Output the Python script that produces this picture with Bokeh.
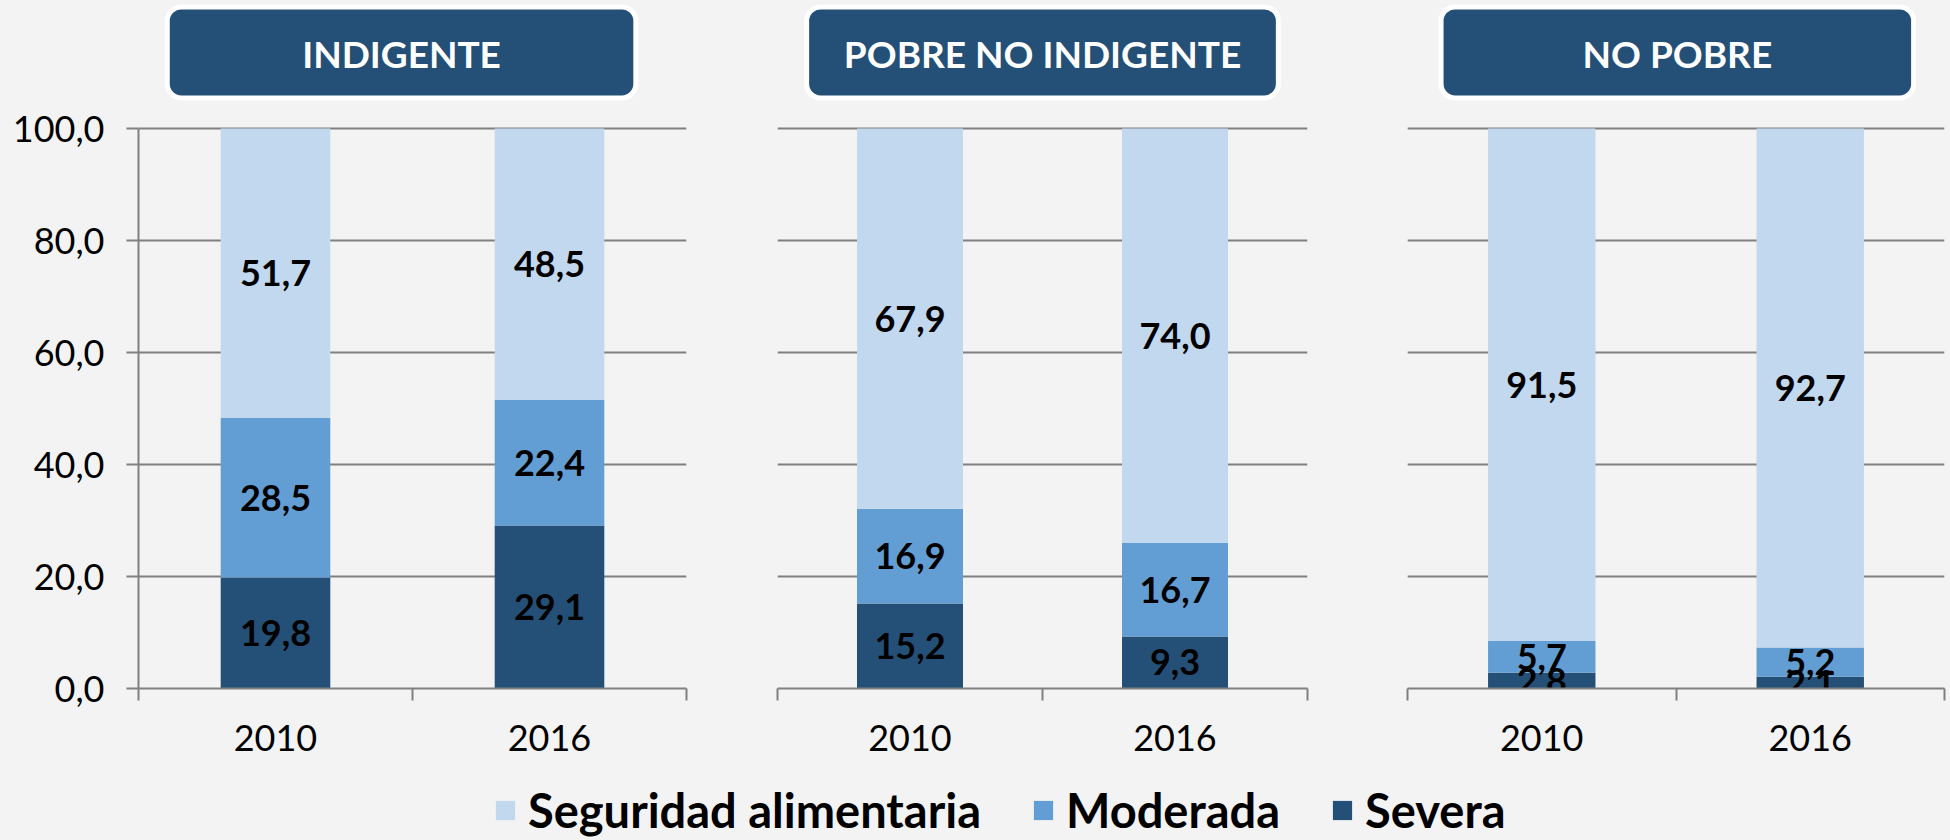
from bokeh.plotting import figure
from bokeh.models import (Range1d, FixedTicker, ColumnDataSource, BoxAnnotation, Label,
                          Legend, LegendItem, GlobalInlineStyleSheet)
from bokeh.layouts import row, column
from bokeh.core.properties import value
from bokeh.embed import file_html
from bokeh.resources import INLINE

# ---------------- data ----------------
YEARS = ["2010", "2016"]
GROUPS = ["INDIGENTE", "POBRE NO INDIGENTE", "NO POBRE"]
SERIES = ["Seguridad alimentaria", "Moderada", "Severa"]
SEVERA = [[19.8, 29.1], [15.2, 9.3], [2.8, 2.1]]
MODERADA = [[28.5, 22.4], [16.9, 16.7], [5.7, 5.2]]
SEGURIDAD = [[51.7, 48.5], [67.9, 74.0], [91.5, 92.7]]
Y_TICKS = [0, 20, 40, 60, 80, 100]

# ---------------- style ----------------
BG = "#F3F3F3"
C_LIGHT = "#C2D8EE"
C_MED = "#629ED3"
C_DARK = "#245077"
GRID = "#808080"
FONT = "Lato"

PAGE_W, PAGE_H = 1950, 840
PX_PER_UNIT = 5.6
FRAME_H = 688
Y_END = FRAME_H / PX_PER_UNIT
FIG_H = 760
BORDER_BOTTOM = FIG_H - FRAME_H

# fig width, border left, border right, show y axis, title centre (x units), title half width
PANELS = [(731, 138, 45, True, 0.96, 0.855),
          (626, 46, 50, False, 1.0, 0.89),
          (593, 50, 6, False, 1.005, 0.88)]


def fmt(v):
    return f"{v:.1f}".replace(".", ",")


figs = []
for gi, group in enumerate(GROUPS):
    w, bl, br, show_y, tc, half = PANELS[gi]
    n = len(YEARS)
    p = figure(width=w, height=FIG_H, x_range=Range1d(0, n), y_range=Range1d(0, Y_END),
               output_backend="svg", toolbar_location=None,
               min_border_left=bl, min_border_right=br, min_border_top=0,
               min_border_bottom=BORDER_BOTTOM,
               y_axis_location="left" if show_y else None,
               background_fill_color=BG, border_fill_color=BG, outline_line_color=None)

    xs = [i + 0.5 for i in range(n)]
    src = ColumnDataSource(dict(x=xs, severa=SEVERA[gi], moderada=MODERADA[gi],
                                seguridad=SEGURIDAD[gi]))
    p.vbar_stack(["severa", "moderada", "seguridad"], x="x", width=0.4, source=src,
                 fill_color=[C_DARK, C_MED, C_LIGHT], line_color=None)

    # data labels at the middle of each segment
    lx, ly, lt = [], [], []
    for j in range(n):
        base = 0.0
        for vals in (SEVERA[gi], MODERADA[gi], SEGURIDAD[gi]):
            v = vals[j]
            lx.append(xs[j])
            ly.append(base + v / 2.0)
            lt.append(fmt(v))
            base += v
    p.text(x=lx, y=ly, text=lt, text_align="center", text_baseline="middle",
           text_font=value(FONT), text_font_style="bold", text_font_size=value("36px"),
           text_color="black")

    # grid
    p.xgrid.visible = False
    p.ygrid.ticker = FixedTicker(ticks=Y_TICKS)
    p.ygrid.grid_line_color = GRID
    p.ygrid.grid_line_width = 2

    # x axis
    xa = p.xaxis[0]
    xa.ticker = FixedTicker(ticks=xs, minor_ticks=list(range(n + 1)))
    xa.major_label_overrides = {xs[j]: YEARS[j] for j in range(n)}
    xa.major_tick_line_color = None
    xa.major_tick_out = 0
    xa.major_tick_in = 0
    xa.minor_tick_line_color = GRID
    xa.minor_tick_line_width = 2
    xa.minor_tick_out = 12
    xa.minor_tick_in = 0
    xa.axis_line_color = GRID
    xa.axis_line_width = 2
    xa.major_label_text_font = FONT
    xa.major_label_text_font_size = "36px"
    xa.major_label_text_color = "black"
    xa.major_label_standoff = 24

    if show_y:
        ya = p.yaxis[0]
        ya.ticker = FixedTicker(ticks=Y_TICKS)
        ya.major_label_overrides = {t: fmt(t) for t in Y_TICKS}
        ya.bounds = (0, 100)
        ya.axis_line_color = GRID
        ya.axis_line_width = 2
        ya.major_tick_line_color = GRID
        ya.major_tick_line_width = 2
        ya.major_tick_out = 12
        ya.major_tick_in = 0
        ya.minor_tick_line_color = None
        ya.major_label_text_font = FONT
        ya.major_label_text_font_size = "36px"
        ya.major_label_text_color = "black"
        ya.major_label_standoff = 22

    # panel title box
    box = BoxAnnotation(left=tc - half, right=tc + half, bottom=105.45, top=121.7,
                        fill_color=C_DARK, fill_alpha=1.0, line_color="white",
                        line_width=5, line_alpha=1.0, border_radius=14)
    p.add_layout(box)
    p.add_layout(Label(x=tc, y=113.4, text=group, text_align="center",
                       text_baseline="middle", text_color="white", text_font=FONT,
                       text_font_style="bold", text_font_size="37px"))
    figs.append(p)

# ---------------- legend ----------------
lf = figure(width=PAGE_W, height=PAGE_H - FIG_H,
            x_range=Range1d(0, 1), y_range=Range1d(0, 1),
            output_backend="svg", toolbar_location=None,
            x_axis_location=None, y_axis_location=None, min_border=0,
            background_fill_color=BG, border_fill_color=BG, outline_line_color=None)
lf.xgrid.visible = False
lf.ygrid.visible = False
colors = {"Seguridad alimentaria": C_LIGHT, "Moderada": C_MED, "Severa": C_DARK}
items = []
for s in SERIES:
    # placeholder renderer (NaN height, nothing visible) that only feeds the legend swatch
    r = lf.vbar(x=[0.5], top=[float("nan")], width=0.1, fill_color=colors[s], line_color=None)
    items.append(LegendItem(label=s, renderers=[r]))
legend = Legend(items=items, orientation="horizontal", location=(493, 2),
                label_text_font=FONT, label_text_font_style="bold",
                label_text_font_size="47px", label_text_color="black",
                glyph_width=24, glyph_height=24, label_standoff=11, spacing=50,
                padding=0, margin=0, border_line_color=None, background_fill_alpha=0)
lf.add_layout(legend)

page_css = GlobalInlineStyleSheet(
    css="html, body { margin: 0 !important; padding: 0 !important; "
        "background-color: #F3F3F3; overflow: hidden; }")
layout = column(row(*figs), lf, stylesheets=[page_css],
                styles={"background-color": BG})
open("out.html", "w").write(file_html(layout, INLINE))
